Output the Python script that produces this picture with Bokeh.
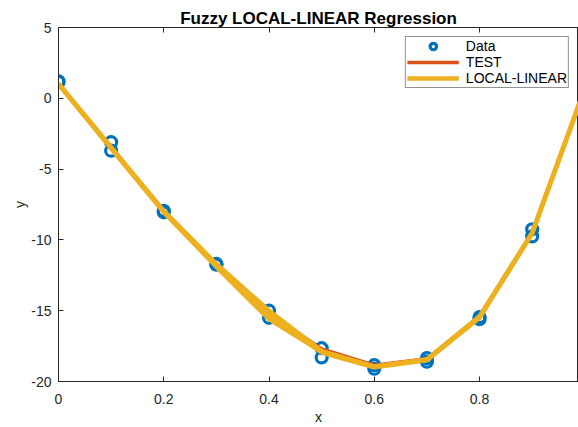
from bokeh.plotting import figure
from bokeh.models import Range1d, LinearAxis, Legend, LegendItem, FixedTicker
from bokeh.embed import file_html
from bokeh.resources import INLINE

# ---- data ----
data_x = [0, 0, 0.1, 0.1, 0.2, 0.2, 0.3, 0.3, 0.4, 0.4,
          0.5, 0.5, 0.6, 0.6, 0.7, 0.7, 0.8, 0.8, 0.9, 0.9]
data_y = [1.2, 1.15, -3.1, -3.7, -7.95, -8.05, -11.7, -11.75, -15.0, -15.5,
          -17.65, -18.3, -18.85, -19.1, -18.35, -18.6, -15.45, -15.6, -9.25, -9.75]

grid_x = [0, 0.1, 0.2, 0.3, 0.4, 0.5, 0.6, 0.7, 0.8, 0.9, 1.0]
test_y = [1.0, -3.5, -8.0, -11.85, -15.2, -17.7, -18.85, -18.4, -15.4, -9.5, 0.7]
ll_upper = [1.05, -3.45, -7.95, -11.7, -15.0, -17.85, -18.95, -18.45, -15.4, -9.5, 0.7]
ll_mid = [1.0, -3.5, -8.0, -11.8, -15.3, -17.95, -19.0, -18.5, -15.5, -9.55, 0.65]
ll_lower = [1.0, -3.55, -8.05, -11.9, -15.6, -17.9, -18.95, -18.45, -15.45, -9.5, 0.7]

x_ticks = [0, 0.2, 0.4, 0.6, 0.8]
x_tick_labels = ["0", "0.2", "0.4", "0.6", "0.8"]
y_ticks = [-20, -15, -10, -5, 0, 5]
y_tick_labels = ["-20", "-15", "-10", "-5", "0", "5"]

BLUE = "#0072BD"
RED = "#D95319"
YELLOW = "#EDB120"
AX = "#262626"
FONT = "Liberation Sans"

p = figure(width=578, height=427, output_backend="svg", toolbar_location=None,
           x_range=Range1d(0, 0.988), y_range=Range1d(-20, 5),
           min_border_left=58, min_border_right=0, min_border_top=27, min_border_bottom=44,
           title="Fuzzy LOCAL-LINEAR Regression")

p.title.align = "center"
p.title.text_font = FONT
p.title.text_font_size = "17px"
p.title.text_font_style = "bold"
p.title.text_color = "#000000"
p.title.standoff = 0
p.title.offset = 0

p.xgrid.visible = False
p.ygrid.visible = False
p.outline_line_color = AX
p.outline_line_width = 1
p.background_fill_color = "white"
p.border_fill_color = "white"

for ax in (p.xaxis[0], p.yaxis[0]):
    ax.axis_line_color = AX
    ax.major_tick_line_color = AX
    ax.major_tick_in = 5
    ax.major_tick_out = 0
    ax.minor_tick_line_color = None
    ax.major_label_text_font = FONT
    ax.major_label_text_font_size = "14px"
    ax.major_label_text_color = AX
    ax.axis_label_text_font = FONT
    ax.axis_label_text_font_size = "14px"
    ax.axis_label_text_font_style = "normal"
    ax.axis_label_text_color = AX

p.xaxis[0].ticker = FixedTicker(ticks=x_ticks)
p.xaxis[0].major_label_overrides = {t: l for t, l in zip(x_ticks, x_tick_labels)}
p.xaxis[0].major_label_standoff = 12
p.xaxis[0].axis_label_standoff = 2
p.yaxis[0].ticker = FixedTicker(ticks=y_ticks)
p.yaxis[0].major_label_overrides = {t: l for t, l in zip(y_ticks, y_tick_labels)}
p.yaxis[0].major_label_standoff = 7
p.yaxis[0].axis_label_standoff = 0
p.xaxis[0].axis_label = "x"
p.yaxis[0].axis_label = "y"

top = LinearAxis(ticker=FixedTicker(ticks=x_ticks), major_tick_in=5, major_tick_out=0,
                 minor_tick_line_color=None, major_label_overrides={t: "" for t in x_ticks},
                 major_label_standoff=0, axis_line_color=AX, major_tick_line_color=AX)
p.add_layout(top, "above")

sc = p.scatter(data_x, data_y, marker="circle", size=11, line_color=BLUE, line_width=3.2,
               fill_alpha=0)
tl = p.line(grid_x, test_y, line_color=RED, line_width=3.5)
l1 = p.line(grid_x, ll_upper, line_color=YELLOW, line_width=4.5)
l2 = p.line(grid_x, ll_mid, line_color=YELLOW, line_width=4.5)
l3 = p.line(grid_x, ll_lower, line_color=YELLOW, line_width=4.5)

legend = Legend(items=[LegendItem(label="Data", renderers=[sc]),
                       LegendItem(label="TEST", renderers=[tl]),
                       LegendItem(label="LOCAL-LINEAR", renderers=[l2])],
                location="top_right", margin=9, padding=1, spacing=0,
                glyph_width=52, glyph_height=16, label_height=16, label_standoff=7,
                label_text_font=FONT, label_text_font_size="14px", label_text_color="#000000",
                border_line_color=AX, border_line_width=1, background_fill_color="white",
                background_fill_alpha=1)
p.add_layout(legend, "center")

open("out.html", "w").write(file_html(p, INLINE))
